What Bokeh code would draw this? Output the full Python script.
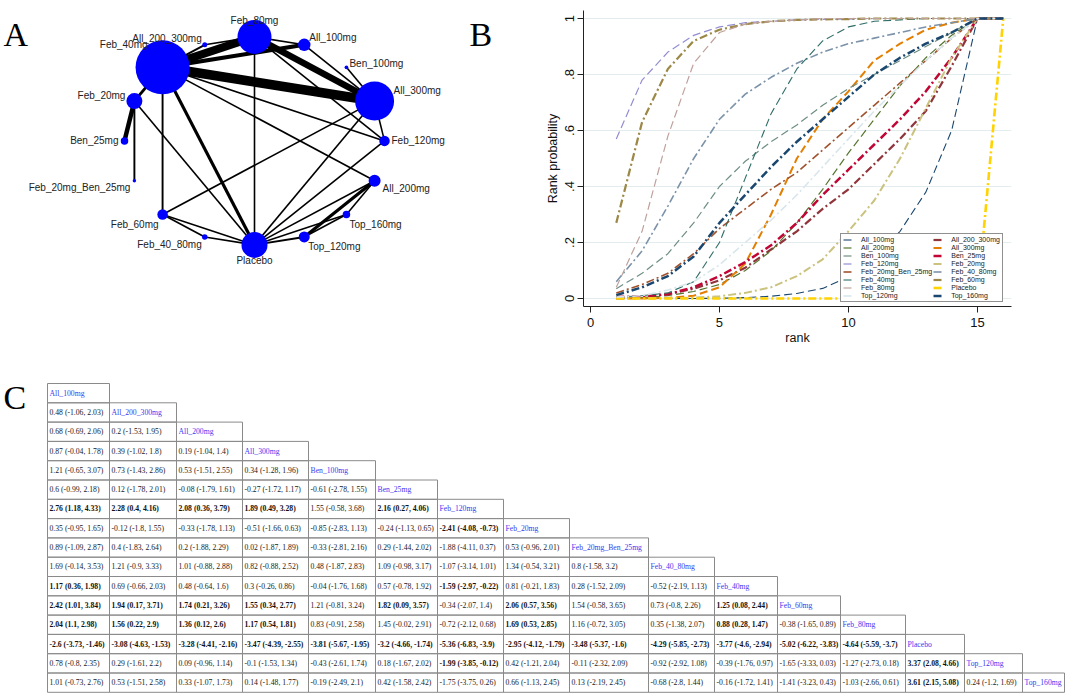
import math
from bokeh.plotting import figure
from bokeh.models import Range1d, FixedTicker, ColumnDataSource, Legend, LegendItem
from bokeh.layouts import row, column
from bokeh.core.properties import value
from bokeh.embed import file_html
from bokeh.resources import INLINE

# ---------------------------------------------------------------- data
treatments = ["All_100mg", "All_200_300mg", "All_200mg", "All_300mg", "Ben_100mg",
              "Ben_25mg", "Feb_120mg", "Feb_20mg", "Feb_20mg_Ben_25mg", "Feb_40_80mg",
              "Feb_40mg", "Feb_60mg", "Feb_80mg", "Placebo", "Top_120mg", "Top_160mg"]

# network map (panel A): nodes around a circle, clockwise from top
network_order = ["Feb_80mg", "All_100mg", "Ben_100mg", "All_300mg", "Feb_120mg",
                 "All_200mg", "Top_160mg", "Top_120mg", "Placebo", "Feb_40_80mg",
                 "Feb_60mg", "Feb_20mg_Ben_25mg", "Ben_25mg", "Feb_20mg", "Feb_40mg",
                 "All_200_300mg"]
node_weight = [34, 12.5, 3.7, 39, 10.5, 12, 7.5, 11, 26, 5.5, 10.5, 3.4, 7.5, 16, 54, 5]

edge_from = ["Feb_40mg", "Feb_40mg", "Feb_80mg", "Feb_40mg", "Feb_20mg", "Feb_40mg",
             "All_200mg", "Feb_20mg", "Feb_40mg", "All_200_300mg", "Feb_80mg", "Feb_80mg",
             "Feb_80mg", "Feb_40mg", "Feb_40mg", "Feb_40mg", "Feb_20mg", "Feb_20mg",
             "All_100mg", "Ben_100mg", "All_300mg", "All_300mg", "All_300mg", "Feb_120mg",
             "All_200mg", "All_200mg", "Top_160mg", "Top_120mg", "Top_120mg", "Feb_60mg",
             "Feb_60mg", "Feb_40_80mg"]
edge_to = ["All_300mg", "Feb_80mg", "All_300mg", "All_100mg", "Ben_25mg", "Placebo",
           "Top_120mg", "Feb_40mg", "All_200_300mg", "Feb_80mg", "All_100mg", "Placebo",
           "Feb_120mg", "Feb_120mg", "All_200mg", "Feb_60mg", "Feb_20mg_Ben_25mg", "Placebo",
           "All_300mg", "All_300mg", "Feb_120mg", "Feb_60mg", "Placebo", "Placebo",
           "Placebo", "Top_160mg", "Placebo", "Placebo", "Top_160mg", "Placebo",
           "Feb_40_80mg", "Placebo"]
edge_studies = [6, 5, 4, 2.6, 2.8, 2, 2, 1.8, 1.2, 1, 1, 1, 1, 1, 1, 1.2, 1.2, 1,
                1, 1, 1, 1, 1, 1, 1, 1, 1, 1.2, 1, 1, 1, 1]

# cumulative rank probabilities (panel B)
ranks = list(range(1, 17))
cr_All_100mg = [0, 0, 0, 0, 0.001, 0.003, 0.008, 0.018, 0.036, 0.077, 0.15, 0.24, 0.38, 0.60, 1, 1]
cr_All_200_300mg = [0, 0.005, 0.015, 0.035, 0.065, 0.11, 0.175, 0.24, 0.32, 0.39, 0.48, 0.57, 0.67, 0.83, 1, 1]
cr_All_200mg = [0, 0.003, 0.01, 0.025, 0.05, 0.1, 0.17, 0.27, 0.39, 0.52, 0.64, 0.76, 0.86, 0.94, 1, 1]
cr_All_300mg = [0, 0, 0.002, 0.01, 0.04, 0.125, 0.3, 0.5, 0.64, 0.74, 0.85, 0.91, 0.96, 0.985, 1, 1]
cr_Ben_100mg = [0.035, 0.09, 0.16, 0.27, 0.40, 0.49, 0.56, 0.62, 0.69, 0.75, 0.80, 0.85, 0.90, 0.95, 1, 1]
cr_Ben_25mg = [0.005, 0.008, 0.015, 0.04, 0.08, 0.13, 0.19, 0.27, 0.37, 0.46, 0.55, 0.64, 0.74, 0.86, 1, 1]
cr_Feb_120mg = [0.57, 0.78, 0.88, 0.94, 0.97, 0.985, 0.99, 0.995, 0.997, 0.998, 1, 1, 1, 1, 1, 1]
cr_Feb_20mg = [0, 0, 0.001, 0.003, 0.008, 0.02, 0.04, 0.08, 0.14, 0.24, 0.35, 0.50, 0.68, 0.86, 1, 1]
cr_Feb_20mg_Ben_25mg = [0.02, 0.05, 0.09, 0.16, 0.25, 0.32, 0.39, 0.45, 0.53, 0.61, 0.69, 0.77, 0.85, 0.93, 1, 1]
cr_Feb_40_80mg = [0.06, 0.17, 0.33, 0.50, 0.64, 0.73, 0.79, 0.84, 0.88, 0.91, 0.93, 0.95, 0.97, 0.985, 1, 1]
cr_Feb_40mg = [0.005, 0.01, 0.02, 0.06, 0.20, 0.43, 0.66, 0.82, 0.92, 0.97, 0.99, 0.995, 1, 1, 1, 1]
cr_Feb_60mg = [0.27, 0.63, 0.82, 0.92, 0.96, 0.98, 0.99, 0.995, 0.997, 0.998, 1, 1, 1, 1, 1, 1]
cr_Feb_80mg = [0.04, 0.24, 0.58, 0.84, 0.95, 0.98, 0.99, 0.995, 1, 1, 1, 1, 1, 1, 1, 1]
cr_Placebo = [0, 0, 0, 0, 0, 0, 0, 0, 0, 0, 0, 0, 0, 0, 0, 1]
cr_Top_120mg = [0.005, 0.01, 0.03, 0.06, 0.12, 0.20, 0.28, 0.37, 0.47, 0.57, 0.67, 0.76, 0.85, 0.93, 1, 1]
cr_Top_160mg = [0.012, 0.04, 0.08, 0.15, 0.27, 0.37, 0.47, 0.56, 0.64, 0.72, 0.80, 0.86, 0.91, 0.95, 1, 1]

x_ticks = [0, 5, 10, 15]
y_ticks = [0, 0.2, 0.4, 0.6, 0.8, 1]
y_tick_labels = ["0", ".2", ".4", ".6", ".8", "1"]

# league table (panel C): row i+1 vs column j, mean difference (95% CI)
league_est = [
    [0.48],
    [0.68, 0.2],
    [0.87, 0.39, 0.19],
    [1.21, 0.73, 0.53, 0.34],
    [0.6, 0.12, -0.08, -0.27, -0.61],
    [2.76, 2.28, 2.08, 1.89, 1.55, 2.16],
    [0.35, -0.12, -0.33, -0.51, -0.85, -0.24, -2.41],
    [0.89, 0.4, 0.2, 0.02, -0.33, 0.29, -1.88, 0.53],
    [1.69, 1.21, 1.01, 0.82, 0.48, 1.09, -1.07, 1.34, 0.8],
    [1.17, 0.69, 0.48, 0.3, -0.04, 0.57, -1.59, 0.81, 0.28, -0.52],
    [2.42, 1.94, 1.74, 1.55, 1.21, 1.82, -0.34, 2.06, 1.54, 0.73, 1.25],
    [2.04, 1.56, 1.36, 1.17, 0.83, 1.45, -0.72, 1.69, 1.16, 0.35, 0.88, -0.38],
    [-2.6, -3.08, -3.28, -3.47, -3.81, -3.2, -5.36, -2.95, -3.48, -4.29, -3.77, -5.02, -4.64],
    [0.78, 0.29, 0.09, -0.1, -0.43, 0.18, -1.99, 0.42, -0.11, -0.92, -0.39, -1.65, -1.27, 3.37],
    [1.01, 0.53, 0.33, 0.14, -0.19, 0.42, -1.75, 0.66, 0.13, -0.68, -0.16, -1.41, -1.03, 3.61, 0.24],
]
league_lo = [
    [-1.06],
    [-0.69, -1.53],
    [-0.04, -1.02, -1.04],
    [-0.65, -1.43, -1.51, -1.28],
    [-0.99, -1.78, -1.79, -1.72, -2.78],
    [1.18, 0.4, 0.36, 0.49, -0.58, 0.27],
    [-0.95, -1.8, -1.78, -1.66, -2.83, -1.13, -4.08],
    [-1.09, -1.83, -1.88, -1.87, -2.81, -1.44, -4.11, -0.96],
    [-0.14, -0.9, -0.88, -0.88, -1.87, -0.98, -3.14, -0.54, -1.58],
    [0.36, -0.66, -0.64, -0.26, -1.76, -0.78, -2.97, -0.21, -1.52, -2.19],
    [1.01, 0.17, 0.21, 0.34, -0.81, 0.09, -2.07, 0.57, -0.58, -0.8, 0.08],
    [1.1, 0.22, 0.12, 0.54, -0.91, -0.02, -2.12, 0.53, -0.72, -1.38, 0.28, -1.65],
    [-3.73, -4.63, -4.41, -4.39, -5.67, -4.66, -6.83, -4.12, -5.37, -5.85, -4.6, -6.22, -5.59],
    [-0.8, -1.61, -0.96, -1.53, -2.61, -1.67, -3.85, -1.21, -2.32, -2.92, -1.76, -3.33, -2.73, 2.08],
    [-0.73, -1.51, -1.07, -1.48, -2.49, -1.58, -3.75, -1.13, -2.19, -2.8, -1.72, -3.23, -2.66, 2.15, -1.2],
]
league_hi = [
    [2.03],
    [2.06, 1.95],
    [1.78, 1.8, 1.4],
    [3.07, 2.86, 2.55, 1.96],
    [2.18, 2.01, 1.61, 1.17, 1.55],
    [4.33, 4.16, 3.79, 3.28, 3.68, 4.06],
    [1.65, 1.55, 1.13, 0.63, 1.13, 0.65, -0.73],
    [2.87, 2.64, 2.29, 1.89, 2.16, 2.02, 0.37, 2.01],
    [3.53, 3.33, 2.88, 2.52, 2.83, 3.17, 1.01, 3.21, 3.2],
    [1.98, 2.03, 1.6, 0.86, 1.68, 1.92, -0.22, 1.83, 2.09, 1.13],
    [3.84, 3.71, 3.26, 2.77, 3.24, 3.57, 1.4, 3.56, 3.65, 2.26, 2.44],
    [2.98, 2.9, 2.6, 1.81, 2.58, 2.91, 0.68, 2.85, 3.05, 2.07, 1.47, 0.89],
    [-1.46, -1.53, -2.16, -2.55, -1.95, -1.74, -3.9, -1.79, -1.6, -2.73, -2.94, -3.83, -3.7],
    [2.35, 2.2, 1.14, 1.34, 1.74, 2.02, -0.12, 2.04, 2.09, 1.08, 0.97, 0.03, 0.18, 4.66],
    [2.76, 2.58, 1.73, 1.77, 2.1, 2.42, 0.26, 2.45, 2.45, 1.44, 1.41, 0.43, 0.61, 5.08, 1.69],
]

# ---------------------------------------------------------------- layout / styles
SANS = value("Liberation Sans")
SERIF = value("Liberation Serif")

# ---------------- Panel A: network
cx, cy, R = 254.0, 163.0, 130.0
pos = {}
for k, name in enumerate(network_order):
    th = math.radians(90 - 22.5 * k)
    pos[name] = (cx + R * math.cos(th), cy - R * math.sin(th))

label_place = {  # (dx, dy, align) in pixels
    "Feb_80mg": (0, -21, "center"), "All_100mg": (5, -9, "left"),
    "Ben_100mg": (3, -5, "left"), "All_300mg": (19, -13, "left"),
    "Feb_120mg": (7, 0, "left"), "All_200mg": (8, 10, "left"),
    "Top_160mg": (3, 12, "left"), "Top_120mg": (4, 12, "left"),
    "Placebo": (0, 20, "center"), "Feb_40_80mg": (-3, 10, "right"),
    "Feb_60mg": (-4, 13, "right"), "Feb_20mg_Ben_25mg": (-4, 8, "right"),
    "Ben_25mg": (-6, 0, "right"), "Feb_20mg": (-9, -7, "right"),
    "Feb_40mg": (-15, -28, "right"), "All_200_300mg": (-3, -8, "right"),
}

pA = figure(width=530, height=370, x_range=Range1d(0, 530), y_range=Range1d(370, 0),
            x_axis_location=None, y_axis_location=None, toolbar_location=None,
            output_backend="svg", min_border=0)
pA.grid.visible = False
pA.outline_line_color = None

esrc = ColumnDataSource(dict(
    x0=[pos[a][0] for a in edge_from], y0=[pos[a][1] for a in edge_from],
    x1=[pos[b][0] for b in edge_to], y1=[pos[b][1] for b in edge_to],
    w=[1.6 * n for n in edge_studies]))
pA.segment(x0="x0", y0="y0", x1="x1", y1="y1", line_width="w", line_color="black", source=esrc)

nsrc = ColumnDataSource(dict(x=[pos[n][0] for n in network_order],
                             y=[pos[n][1] for n in network_order],
                             s=node_weight))
pA.scatter(x="x", y="y", size="s", marker="circle", fill_color="#0000ff", line_color=None, source=nsrc)

for al in ["left", "right", "center"]:
    names = [n for n in network_order if label_place[n][2] == al]
    pA.text(x=[pos[n][0] + label_place[n][0] for n in names],
            y=[pos[n][1] + label_place[n][1] for n in names],
            text=names, text_align=al, text_baseline="middle",
            text_font=SANS, text_font_size="10px", text_color="#222222")

pA.text(x=[3], y=[30], text=["A"], text_font=SERIF, text_font_size="34px",
        text_baseline="alphabetic", text_color="black")
pA.text(x=[469], y=[30], text=["B"], text_font=SERIF, text_font_size="34px",
        text_baseline="alphabetic", text_color="black")

# ---------------- Panel B: cumulative ranking curves
colors = ["#1a476f", "#90353b", "#55752f", "#e37e00", "#6e8e84", "#c10534", "#938dd2",
          "#cac27e", "#a0522d", "#7b92a8", "#2d6d66", "#9c8847", "#bfa19c", "#ffd200",
          "#d9e6eb", "#1a476f"]
DASH = "8 4"
DDOT = "8 3 2 3"
dashes = [DASH, DDOT, DASH, DASH, DASH, DDOT, DASH, DDOT, DDOT, DDOT, DASH, DDOT,
          DASH, DDOT, DDOT, DDOT]
widths = [1.1, 2.2, 1.2, 2.0, 1.2, 2.5, 1.2, 2.0, 1.6, 1.6, 1.1, 2.2, 1.2, 2.6, 1.6, 2.5]
curves = [cr_All_100mg, cr_All_200_300mg, cr_All_200mg, cr_All_300mg, cr_Ben_100mg,
          cr_Ben_25mg, cr_Feb_120mg, cr_Feb_20mg, cr_Feb_20mg_Ben_25mg, cr_Feb_40_80mg,
          cr_Feb_40mg, cr_Feb_60mg, cr_Feb_80mg, cr_Placebo, cr_Top_120mg, cr_Top_160mg]

pB = figure(frame_width=428, frame_height=296,
            x_range=Range1d(-0.271, 16.32), y_range=Range1d(-0.0286, 1.0286),
            min_border_left=53, min_border_right=54, min_border_top=10, min_border_bottom=64,
            toolbar_location=None, output_backend="svg")
pB.outline_line_color = None
pB.xgrid.grid_line_color = None
pB.ygrid.grid_line_color = "#e3edf0"
pB.ygrid.ticker = FixedTicker(ticks=y_ticks)
pB.xaxis.ticker = FixedTicker(ticks=x_ticks)
pB.yaxis.ticker = FixedTicker(ticks=y_ticks)
pB.yaxis.major_label_overrides = {t: l for t, l in zip(y_ticks, y_tick_labels)}
pB.yaxis.major_label_orientation = "vertical"
for ax in (pB.xaxis, pB.yaxis):
    ax.minor_tick_line_color = None
    ax.major_tick_out = 6
    ax.major_tick_in = 0
    ax.axis_line_color = "#222222"
    ax.major_tick_line_color = "#222222"
    ax.major_label_text_font = "Liberation Sans"
    ax.major_label_text_font_size = "13px"
    ax.major_label_text_color = "#111111"
    ax.axis_label_text_font = "Liberation Sans"
    ax.axis_label_text_font_size = "12.5px"
    ax.axis_label_text_font_style = "normal"
    ax.axis_label_text_color = "#111111"
pB.xaxis.axis_label = "rank"
pB.yaxis.axis_label = "Rank probability"
pB.xaxis.major_label_standoff = 5
pB.xaxis.axis_label_standoff = 1
pB.yaxis.major_label_standoff = 3
pB.yaxis.axis_label_standoff = 3

items = []
for name, ys, c, d, w in zip(treatments, curves, colors, dashes, widths):
    r = pB.line(ranks, ys, line_color=c, line_dash=d, line_width=w)
    items.append(LegendItem(label=name, renderers=[r]))

legend = Legend(items=items, location=(257, 4), orientation="horizontal", ncols=2)
legend.label_text_font = "Liberation Sans"
legend.label_text_font_size = "7px"
legend.label_text_line_height = 0.8
legend.label_text_color = "#222222"
legend.label_height = 5
legend.glyph_height = 5
legend.glyph_width = 11
legend.label_standoff = 7
legend.spacing = 1
legend.padding = 2
legend.margin = 0
legend.border_line_color = "#222222"
legend.border_line_width = 1.2
legend.background_fill_color = "white"
legend.background_fill_alpha = 1
pB.add_layout(legend)

# ---------------- Panel C: league table
col_edges = [47, 109, 176, 242, 308, 375, 437, 503, 569, 648, 714, 777, 840, 905, 964, 1022, 1064]
row_top, row_h = 383.0, 19.3

pC = figure(width=1065, height=324, x_range=Range1d(0, 1065), y_range=Range1d(694, 370),
            x_axis_location=None, y_axis_location=None, toolbar_location=None,
            output_backend="svg", min_border=0)
pC.grid.visible = False
pC.outline_line_color = None

cl, cr, ct, cb = [], [], [], []
norm_x, norm_y, norm_t = [], [], []
bold_x, bold_y, bold_t = [], [], []
head_x, head_y, head_t = [], [], []
for i, name in enumerate(treatments):
    top = row_top + i * row_h
    mid = top + row_h / 2
    for j in range(i + 1):
        cl.append(col_edges[j]); cr.append(col_edges[j + 1])
        ct.append(top); cb.append(top + row_h)
        if j == i:
            head_x.append(col_edges[j] + 2); head_y.append(mid); head_t.append(name)
        else:
            e, lo, hi = league_est[i - 1][j], league_lo[i - 1][j], league_hi[i - 1][j]
            s = f"{e:g} ({lo:g}, {hi:g})"
            if lo > 0 or hi < 0:
                bold_x.append(col_edges[j] + 2); bold_y.append(mid); bold_t.append(s)
            else:
                norm_x.append(col_edges[j] + 2); norm_y.append(mid); norm_t.append(s)

pC.quad(left=cl, right=cr, top=ct, bottom=cb, fill_color=None,
        line_color="#8a8a8a", line_width=1)
pC.text(x=norm_x, y=norm_y, text=norm_t, text_font=SERIF, text_font_size="7.7px",
        text_baseline="middle", text_color="#1a1a1a")
pC.text(x=bold_x, y=bold_y, text=bold_t, text_font=SERIF, text_font_size="7.7px",
        text_font_style="bold", text_baseline="middle", text_color="#111111")
pC.text(x=head_x, y=head_y, text=head_t, text_font=SERIF, text_font_size="7.7px",
        text_baseline="middle", text_color="#3a3af0")
pC.text(x=[3], y=[397], text=["C"], text_font=SERIF, text_font_size="34px",
        text_baseline="alphabetic", text_color="black")

layout = column(row(pA, pB), pC)
open("out.html", "w").write(file_html(layout, INLINE))
